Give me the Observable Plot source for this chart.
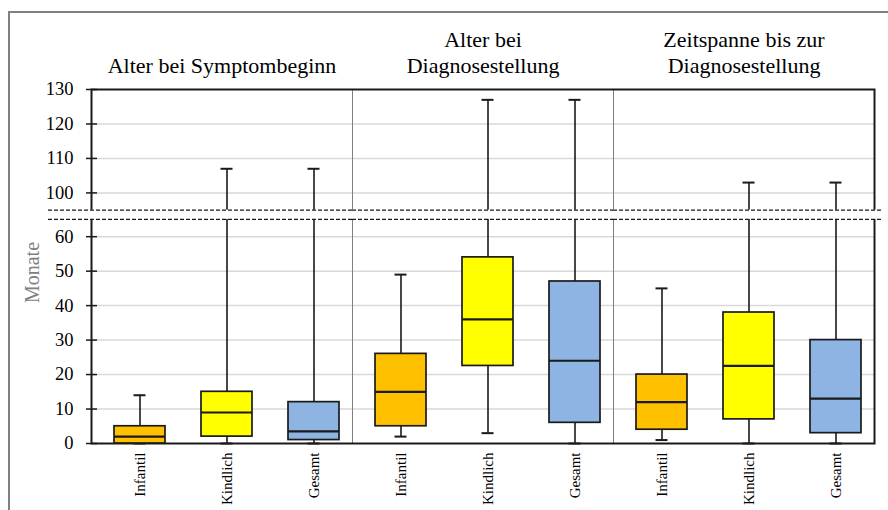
<!DOCTYPE html>
<html><head><meta charset="utf-8">
<script src="https://cdn.jsdelivr.net/npm/d3@7"></script>
<script src="https://cdn.jsdelivr.net/npm/@observablehq/plot@0.6"></script>
<style>
body{margin:0;background:#fff;}
#wrap{position:relative;width:888px;height:510px;overflow:hidden;}
#border{position:absolute;left:8px;top:11px;width:1000px;height:600px;border-left:2px solid #808080;border-top:2px solid #808080;}
#chart{position:absolute;left:0;top:0;}
</style></head><body>
<div id="wrap"><div id="border"></div><div id="chart"></div></div>
<script>
const groups = ["Alter bei Symptombeginn", "Alter bei\nDiagnosestellung", "Zeitspanne bis zur\nDiagnosestellung"];
const categories = ["Infantil", "Kindlich", "Gesamt"];
const colors = ["#FFC000", "#FFFF00", "#8DB4E2"];
const minValues    = [0, 0, 0,    2, 3, 0,     1, 0, 0];
const q1Values     = [0, 2, 1,    5, 22.5, 6,  4, 7, 3];
const medianValues = [2, 9, 3.5,  15, 36, 24,  12, 22.5, 13];
const q3Values     = [5, 15, 12,  26, 54, 47,  20, 38, 30];
const maxValues    = [14, 107, 107, 49, 127, 127, 45, 103, 103];
const yTicksLower = [0, 10, 20, 30, 40, 50, 60];
const yTicksUpper = [100, 110, 120, 130];
const breakLow = 65, breakHigh = 95, breakGap = 2.7;

const f = v => v <= breakLow ? v : v - (breakHigh - breakLow) + breakGap;
const inv = t => t <= breakLow + 0.001 ? t : t + (breakHigh - breakLow) - breakGap;

const rows = minValues.map((_, i) => ({
  group: groups[Math.floor(i / 3)],
  cat: categories[i % 3],
  min: f(minValues[i]), q1: f(q1Values[i]), median: f(medianValues[i]),
  q3: f(q3Values[i]), max: f(maxValues[i])
}));
const tickPos = [...yTicksLower, ...yTicksUpper].map(f);
const gridPos = [...yTicksLower.slice(1), ...yTicksUpper.slice(0, -1)].map(f);
const breakRows = groups.map(g => ({group: g, y1: breakLow, y2: breakLow + breakGap}));
const breakLines = groups.flatMap(g => [breakLow, breakLow + breakGap].map(y => ({group: g, y})));
const ink = "#1a1a1a";
const dash = {fx: "group", y: "y", stroke: ink, strokeWidth: 1.2, strokeDasharray: "4,2"};

const chart = Plot.plot({
  width: 888, height: 510,
  marginLeft: 91, marginRight: 14, marginTop: 89, marginBottom: 67,
  style: {fontFamily: "'Liberation Serif', 'Times New Roman', serif", background: "transparent", color: "#000", overflow: "visible"},
  fx: {domain: groups, padding: 0, label: null},
  x: {domain: categories, paddingInner: 0.41, paddingOuter: 0.205, align: 0.64, label: null},
  y: {domain: [0, f(130)], label: null},
  color: {domain: categories, range: colors},
  marks: [
    Plot.ruleY(gridPos, {stroke: "#d9d9d9", strokeWidth: 1.5}),
    Plot.frame({stroke: "#7f7f7f", strokeWidth: 1}),
    Plot.frame({facet: "super", stroke: ink, strokeWidth: 2}),
    Plot.ruleX(rows, {fx: "group", x: "cat", y1: "min", y2: "max", stroke: ink, strokeWidth: 1.6}),
    Plot.tickY(rows, {fx: "group", x: "cat", y: "max", insetLeft: 19.5, insetRight: 19.5, stroke: ink, strokeWidth: 2}),
    Plot.tickY(rows, {fx: "group", x: "cat", y: "min", insetLeft: 19.5, insetRight: 19.5, stroke: ink, strokeWidth: 2}),
    Plot.barY(rows, {fx: "group", x: "cat", y1: "q1", y2: "q3", fill: "cat", stroke: ink, strokeWidth: 1.7}),
    Plot.tickY(rows, {fx: "group", x: "cat", y: "median", stroke: ink, strokeWidth: 2.2}),
    Plot.rect(breakRows.slice(0, 1), {fx: "group", y1: "y1", y2: "y2", fill: "white", insetLeft: -43, insetRight: -1}),
    Plot.rect(breakRows.slice(1, 2), {fx: "group", y1: "y1", y2: "y2", fill: "white", insetLeft: -1, insetRight: -1}),
    Plot.rect(breakRows.slice(2), {fx: "group", y1: "y1", y2: "y2", fill: "white", insetLeft: -1, insetRight: -8}),
    Plot.ruleY(breakLines.filter(d => d.group === groups[0]), {...dash, insetLeft: -43}),
    Plot.ruleY(breakLines.filter(d => d.group === groups[1]), dash),
    Plot.ruleY(breakLines.filter(d => d.group === groups[2]), {...dash, insetRight: -8}),
    Plot.axisY(tickPos, {tickFormat: inv, tickSize: 0, tickPadding: 18, fontSize: 18.5, fill: "#000", label: null}),
    Plot.axisY(tickPos, {text: null, tickSize: 11, dx: 6, stroke: ink, strokeWidth: 1.5, label: null}),
    Plot.axisX({tickRotate: -90, tickSize: 0, tickPadding: 9, fontSize: 15, fill: "#000", label: null}),
    Plot.axisFx({anchor: "top", tickSize: 0, tickPadding: 17, fontSize: 22, lineHeight: 1.15, fill: "#000", label: null}),
    Plot.text(["Monate"], {facet: "super", frameAnchor: "left", textAnchor: "middle", rotate: -90, dx: -59, dy: 6, fill: "#808080", fontSize: 20})
  ]
});
document.getElementById("chart").appendChild(chart);
</script>
</body></html>
